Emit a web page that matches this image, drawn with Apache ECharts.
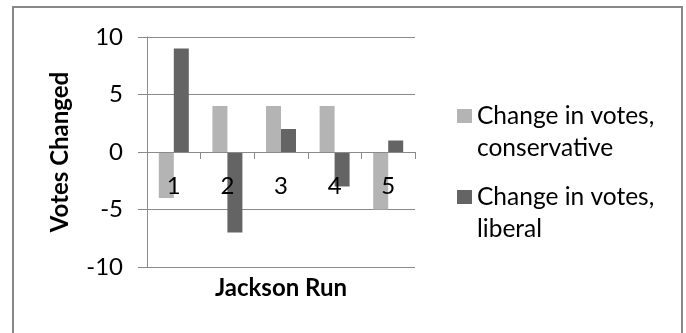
<!DOCTYPE html>
<html>
<head>
<meta charset="utf-8">
<style>
  html, body { margin: 0; padding: 0; background: #fff; }
  #chart { width: 686px; height: 333px; }
</style>
<script src="https://cdn.jsdelivr.net/npm/echarts@6/dist/echarts.min.js"></script>
</head>
<body>
<div id="chart"></div>
<script>
// Vote changes per Jackson run
const runs = ['1', '2', '3', '4', '5'];
const conservative = [-4, 4, 4, 4, -5];
const liberal = [9, -7, 2, -3, 1];
const seriesNames = ['Change in votes,\nconservative', 'Change in votes,\nliberal'];
const yTitle = 'Votes Changed';
const xTitle = 'Jackson Run';
const yTicks = { min: -10, max: 10, interval: 5 };

const FONT = 'Lato';
const axisGray = '#8a8a8a';

const chart = echarts.init(document.getElementById('chart'), null, { renderer: 'canvas' });

// A blank first line keeps the swatch level with the first text line.
const legendCommon = {
  orient: 'vertical', left: 457, padding: 0,
  itemWidth: 15, itemHeight: 14, icon: 'rect',
  formatter: name => '\n' + name,
  textStyle: { fontFamily: FONT, fontSize: 24.5, color: '#000', lineHeight: 32 }
};

// Plot area edges (px); the category axis sits on the zero line.
const plotTop = 37, plotBottom = 66;
const zeroShift = -(333 - plotTop - plotBottom) / 2;

chart.setOption({
  backgroundColor: '#fff',
  animation: false,
  textStyle: { fontFamily: FONT },
  graphic: [
    {
      type: 'rect',
      shape: { x: 13, y: 7, width: 669, height: 340 },
      style: { fill: 'none', stroke: '#888', lineWidth: 2 },
      silent: true
    },
    {
      // vertical title beside the value axis
      type: 'text',
      x: 60, y: 152,
      rotation: Math.PI / 2,
      silent: true,
      style: {
        text: yTitle, fontFamily: FONT, fontSize: 24, fontWeight: 'bold',
        fill: '#000', align: 'center', verticalAlign: 'middle'
      }
    }
  ],
  grid: { left: 147, right: 271, top: plotTop, bottom: plotBottom, outerBoundsMode: 'none', containLabel: false },
  legend: [
    Object.assign({ data: [seriesNames[0]], top: 68 }, legendCommon),
    Object.assign({ data: [seriesNames[1]], top: 149 }, legendCommon)
  ],
  xAxis: {
    type: 'category',
    data: runs,
    position: 'bottom',
    offset: zeroShift,
    z: 10,
    name: xTitle,
    nameLocation: 'middle',
    nameGap: 124,
    nameMoveOverlap: false,
    nameTextStyle: { fontFamily: FONT, fontSize: 24, fontWeight: 'bold', color: '#000' },
    axisLine: { onZero: false, lineStyle: { color: axisGray, width: 1 } },
    axisTick: { show: true, length: 7, lineStyle: { color: axisGray } },
    axisLabel: { fontFamily: FONT, fontSize: 24, color: '#000', margin: 22 },
    splitLine: { show: false }
  },
  yAxis: {
    type: 'value',
    min: yTicks.min,
    max: yTicks.max,
    interval: yTicks.interval,
    axisLine: { show: true, lineStyle: { color: axisGray, width: 1 } },
    axisTick: { show: true, length: 9, lineStyle: { color: axisGray } },
    axisLabel: { fontFamily: FONT, fontSize: 24, color: '#000', margin: 24 },
    splitLine: { show: true, lineStyle: { color: axisGray, width: 1 } }
  },
  series: [
    {
      name: seriesNames[0], type: 'bar', data: conservative,
      barWidth: 15, barGap: '0%',
      itemStyle: { color: '#b4b4b4' }
    },
    {
      name: seriesNames[1], type: 'bar', data: liberal,
      barWidth: 15, barGap: '0%',
      itemStyle: { color: '#646464' }
    }
  ]
});
</script>
</body>
</html>
